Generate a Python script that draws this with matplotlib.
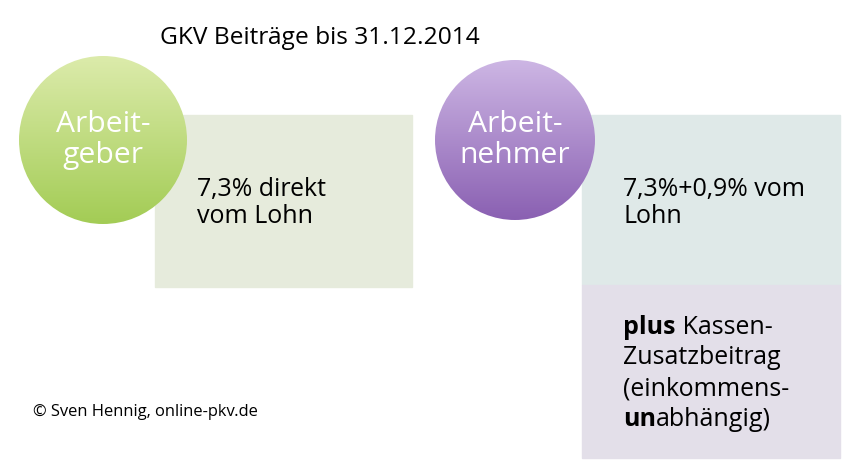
import numpy as np
import matplotlib.pyplot as plt
from matplotlib.patches import Circle, Rectangle

title = "GKV Beiträge bis 31.12.2014"
circle_labels = ["Arbeit-\ngeber", "Arbeit-\nnehmer"]
box_texts = ["7,3% direkt\nvom Lohn", "7,3%+0,9% vom\nLohn"]
extra_lines = [("plus", " Kassen-"), ("", "Zusatzbeitrag"), ("", "(einkommens-"), ("un", "abhängig)")]
credit = "© Sven Hennig, online-pkv.de"

W, H = 859, 476
fig = plt.figure(figsize=(W / 100, H / 100), dpi=100)
ax = fig.add_axes([0, 0, 1, 1])
ax.set_xlim(0, W)
ax.set_ylim(H, 0)
ax.axis("off")
plt.rcParams["font.family"] = "Open Sans"
PX = 0.72  # pixel -> point

# boxes
ax.add_patch(Rectangle((155, 115), 257, 172, color="#e6ebdc", zorder=1))
ax.add_patch(Rectangle((582, 115), 258, 170, color="#dfe9e8", zorder=1))
ax.add_patch(Rectangle((582, 285), 258, 173, color="#e3dfe9", zorder=1))


def grad_circle(cx, cy, r, top, bottom, label):
    t = np.array(plt.matplotlib.colors.to_rgb(top))
    b = np.array(plt.matplotlib.colors.to_rgb(bottom))
    f = np.linspace(0, 1, 200)[:, None, None]
    img = t + (b - t) * f
    img = np.repeat(img, 2, axis=1)
    im = ax.imshow(img, extent=(cx - r, cx + r, cy + r, cy - r), zorder=2, aspect="auto")
    c = Circle((cx, cy), r, transform=ax.transData, facecolor="none", edgecolor="none")
    ax.add_patch(c)
    im.set_clip_path(c)
    ax.text(cx, cy, label, ha="center", va="center", color="white", fontsize=30 * PX,
            linespacing=1.1, zorder=3)


grad_circle(103, 140, 84, "#dcebab", "#a3cc55", circle_labels[0])
grad_circle(515, 140, 80, "#cdb6e4", "#8a60b2", circle_labels[1])

ax.text(320, 38, title, ha="center", va="center", fontsize=24.5 * PX)
ax.text(197, 203, box_texts[0], ha="left", va="center", fontsize=25 * PX, linespacing=1.15)
ax.text(623, 203, box_texts[1], ha="left", va="center", fontsize=25 * PX, linespacing=1.15)
ax.text(33, 412, credit, ha="left", va="center", fontsize=16.5 * PX)

fig.canvas.draw()
r = fig.canvas.get_renderer()
for i, (bold, rest) in enumerate(extra_lines):
    y = 327 + i * 31
    x = 623
    if bold:
        t = ax.text(x, y, bold, ha="left", va="center", fontsize=25 * PX, fontweight="bold")
        x += t.get_window_extent(r).width
    ax.text(x, y, rest, ha="left", va="center", fontsize=25 * PX)

fig.savefig("out.png", dpi=100)
